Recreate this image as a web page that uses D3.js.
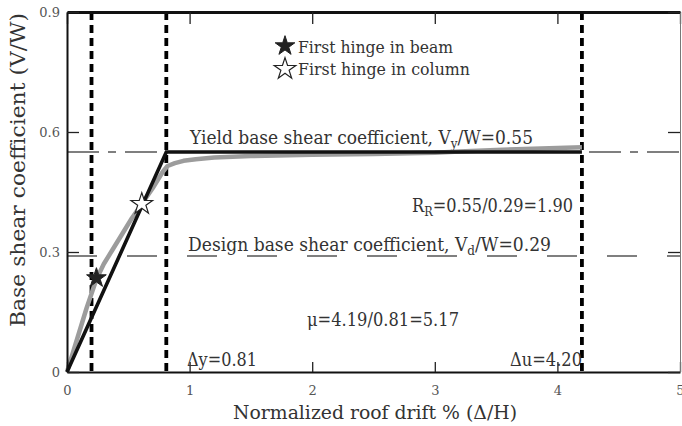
<!DOCTYPE html>
<html>
<head>
<meta charset="utf-8">
<script src="https://cdnjs.cloudflare.com/ajax/libs/d3/7.8.5/d3.min.js"></script>
<style>
  body { margin: 0; background: #fff; }
  text { font-family: "DejaVu Serif", "Liberation Serif", serif; fill: #333; }
</style>
</head>
<body>
<div id="chart"></div>
<script>
// pushover curve (gray)
var pushX = [0, 0.05, 0.1, 0.16, 0.24, 0.3, 0.37, 0.45, 0.53, 0.61, 0.7, 0.78, 0.82, 0.88, 0.95, 1.05, 1.2, 1.5, 2.0, 2.5, 3.0, 3.2, 3.5, 3.8, 4.2];
var pushY = [0, 0.05, 0.1, 0.16, 0.232, 0.27, 0.305, 0.345, 0.385, 0.42, 0.46, 0.5, 0.515, 0.522, 0.528, 0.532, 0.536, 0.54, 0.543, 0.545, 0.548, 0.551, 0.555, 0.558, 0.562];

// idealized bilinear curve
var biX = [0, 0.81, 4.2];
var biY = [0, 0.55, 0.55];

// hinges
var beamHinge = [0.24, 0.235];
var columnHinge = [0.61, 0.42];

var vLines = [0.2, 0.81, 4.2];
var yieldCoef = 0.55;
var designCoef = 0.29;

var xTicks = [0, 1, 2, 3, 4, 5];
var yTicks = [0, 0.3, 0.6, 0.9];

var svgWidth = 682;
var svgHeight = 426;

var margin = { top: 12, right: 2, bottom: 54, left: 67 };
var width = svgWidth - margin.left - margin.right;
var height = svgHeight - margin.top - margin.bottom;

var svg = d3.select("#chart")
  .append("svg")
  .attr("width", svgWidth)
  .attr("height", svgHeight);

var g = svg.append("g")
  .attr("transform", `translate(${margin.left}, ${margin.top})`);

var x = d3.scaleLinear().domain([0, 5]).range([0, width]);
var y = d3.scaleLinear().domain([0, 0.9]).range([height, 0]);

// horizontal reference lines
g.append("line")
  .attr("x1", 0).attr("x2", width)
  .attr("y1", y(yieldCoef)).attr("y2", y(yieldCoef))
  .attr("stroke", "#555").attr("stroke-width", 1.4)
  .attr("stroke-dasharray", "32,9,8,9");

g.append("line")
  .attr("x1", 0).attr("x2", width)
  .attr("y1", y(designCoef)).attr("y2", y(designCoef))
  .attr("stroke", "#555").attr("stroke-width", 1.4)
  .attr("stroke-dasharray", "30,30");

// vertical dashed lines
g.selectAll(".vline")
  .data(vLines)
  .enter()
  .append("line")
  .attr("class", "vline")
  .attr("x1", d => x(d)).attr("x2", d => x(d))
  .attr("y1", 0).attr("y2", height)
  .attr("stroke", "#000").attr("stroke-width", 3.8)
  .attr("stroke-dasharray", "8,5");

var line = d3.line()
  .x(d => x(d[0]))
  .y(d => y(d[1]));

g.append("path")
  .datum(pushX.map((d, i) => [d, pushY[i]]))
  .attr("d", line)
  .attr("fill", "none")
  .attr("stroke", "#9c9c9c")
  .attr("stroke-width", 4.5)
  .attr("stroke-linejoin", "round");

g.append("path")
  .datum(biX.map((d, i) => [d, biY[i]]))
  .attr("d", line)
  .attr("fill", "none")
  .attr("stroke", "#111")
  .attr("stroke-width", 3.6);

// axes
var bottomAxis = d3.axisBottom(x).tickValues(xTicks).tickSizeInner(-10).tickSizeOuter(0).tickPadding(14)
  .tickFormat(d3.format("d"));
var topAxis = d3.axisTop(x).tickValues(xTicks).tickSizeInner(-12).tickSizeOuter(0).tickFormat("");
var leftAxis = d3.axisLeft(y).tickValues(yTicks).tickSizeInner(-12).tickSizeOuter(0).tickPadding(7)
  .tickFormat(d => d === 0 ? "0" : d3.format(".1f")(d));
var rightAxis = d3.axisRight(y).tickValues(yTicks).tickSizeInner(-12).tickSizeOuter(0).tickFormat("");

var xAxisG = g.append("g").attr("transform", `translate(0, ${height})`).call(bottomAxis);
var topG = g.append("g").call(topAxis);
var leftG = g.append("g").call(leftAxis);
var rightG = g.append("g").attr("transform", `translate(${width}, 0)`).call(rightAxis);

[xAxisG, topG, leftG, rightG].forEach(function(a) {
  a.selectAll("text").style("font-size", "13px").style("fill", "#555");
  a.selectAll("line").attr("stroke", "#222").attr("stroke-width", 1.3);
});
xAxisG.select(".domain").attr("stroke", "#111").attr("stroke-width", 2);
leftG.select(".domain").attr("stroke", "#111").attr("stroke-width", 2);
topG.select(".domain").attr("stroke", "#111").attr("stroke-width", 3);
rightG.select(".domain").attr("stroke", "#777").attr("stroke-width", 1);

// stars
var starSmall = d3.symbol().type(d3.symbolStar).size(120);
var starBig = d3.symbol().type(d3.symbolStar).size(145);

g.append("path")
  .attr("d", starSmall())
  .attr("transform", `translate(${x(beamHinge[0])}, ${y(beamHinge[1])})`)
  .attr("fill", "#222").attr("stroke", "#222");

g.append("path")
  .attr("d", starBig())
  .attr("transform", `translate(${x(columnHinge[0])}, ${y(columnHinge[1])})`)
  .attr("fill", "#fff").attr("stroke", "#222").attr("stroke-width", 1.2);

// legend
svg.append("path").attr("d", starSmall())
  .attr("transform", "translate(285, 46)")
  .attr("fill", "#222").attr("stroke", "#222");
svg.append("path").attr("d", starBig())
  .attr("transform", "translate(285, 69)")
  .attr("fill", "#fff").attr("stroke", "#222").attr("stroke-width", 1.2);

function label(px, py, size, len, parts, anchor) {
  var t = svg.append("text")
    .attr("x", px).attr("y", py)
    .style("font-size", size + "px")
    .attr("text-anchor", anchor || "start")
    .attr("textLength", len)
    .attr("lengthAdjust", "spacingAndGlyphs");
  parts.forEach(function(p) {
    if (p.sub) {
      t.append("tspan").text(p.sub).style("font-size", (size * 0.7) + "px").attr("dy", 4);
    } else {
      t.append("tspan").text(p.t).attr("dy", p.up ? -4 : 0);
    }
  });
  return t;
}

label(298, 53, 17, 155, [{ t: "First hinge in beam" }]);
label(298, 75, 17, 172, [{ t: "First hinge in column" }]);
label(190, 144, 18, 343, [{ t: "Yield base shear coefficient, V" }, { sub: "y" }, { t: "/W=0.55", up: true }]);
label(412, 212, 18, 161, [{ t: "R" }, { sub: "R" }, { t: "=0.55/0.29=1.90", up: true }]);
label(188, 251, 18, 363, [{ t: "Design base shear coefficient, V" }, { sub: "d" }, { t: "/W=0.29", up: true }]);
label(307, 326, 18, 152, [{ t: "μ=4.19/0.81=5.17" }]);
label(187, 366, 18, 70, [{ t: "Δy=0.81" }]);
label(510, 366, 18, 72, [{ t: "Δu=4.20" }]);

// axis titles
svg.append("text")
  .attr("x", 375).attr("y", 419)
  .attr("text-anchor", "middle")
  .style("font-size", "19px")
  .attr("textLength", 284)
  .attr("lengthAdjust", "spacingAndGlyphs")
  .text("Normalized roof drift % (Δ/H)");

svg.append("text")
  .attr("transform", "translate(25, 170) rotate(-90)")
  .attr("text-anchor", "middle")
  .style("font-size", "20px")
  .attr("textLength", 314)
  .attr("lengthAdjust", "spacingAndGlyphs")
  .text("Base shear coefficient (V/W)");
</script>
</body>
</html>
